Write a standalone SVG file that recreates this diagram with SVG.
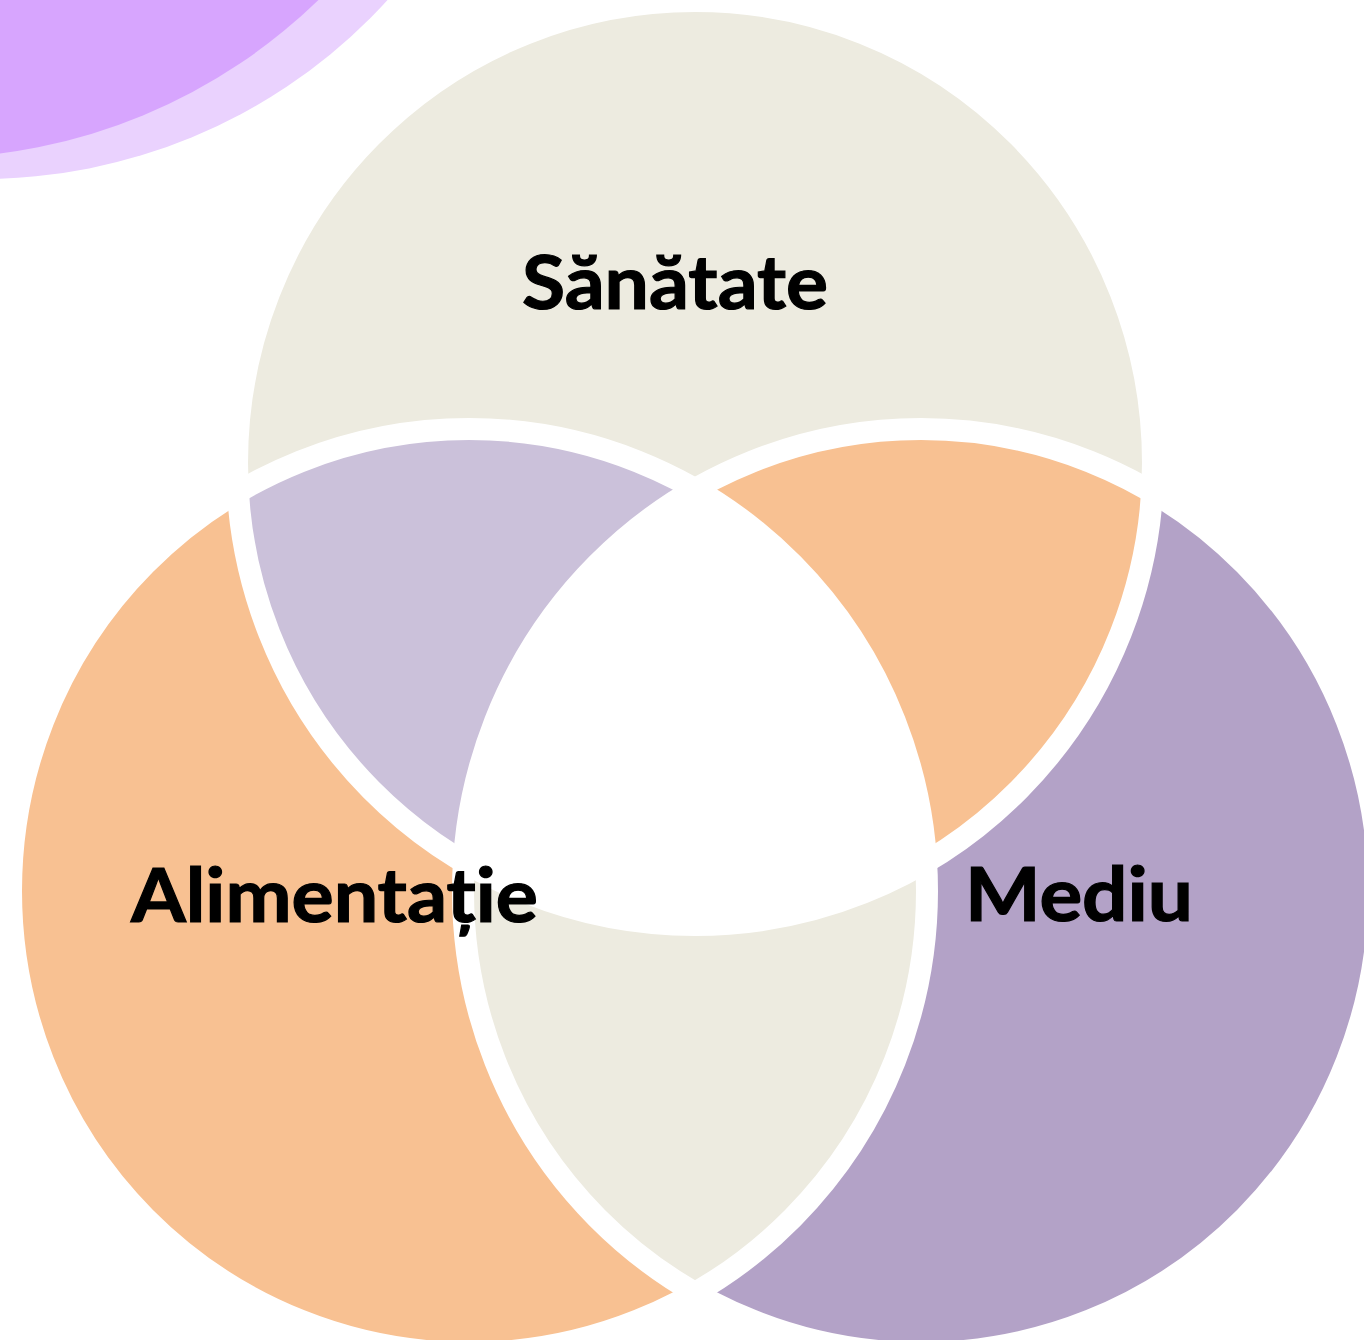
<svg xmlns="http://www.w3.org/2000/svg" width="1364" height="1340" viewBox="0 0 1364 1340">
<style>
.lbl{font-family:Lato,"Liberation Sans",sans-serif;font-weight:700;font-size:75px;fill:#000000;stroke:#000000;stroke-width:1.2px}
.outline{fill:none;stroke:#FFFFFF;stroke-width:22}
</style>
<defs>
<clipPath id="cT"><ellipse cx="695" cy="463" rx="458" ry="462"/></clipPath>
<clipPath id="cL"><ellipse cx="469" cy="891" rx="458" ry="462"/></clipPath>
<clipPath id="cR"><ellipse cx="921" cy="891" rx="458" ry="462"/></clipPath>
</defs>
<rect width="1364" height="1340" fill="#FFFFFF"/>
<g id="deco">
<circle cx="-18" cy="-370" r="549" fill="#EAD2FE"/>
<circle cx="-71" cy="-401" r="559" fill="#D7A5FE"/>
</g>
<g id="node-sanatate">
<ellipse cx="695" cy="463" rx="458" ry="462" fill="#EDEBE0"/>
</g>
<g id="node-alimentatie">
<ellipse cx="469" cy="891" rx="458" ry="462" fill="#F8C192"/>
</g>
<g id="node-mediu">
<ellipse cx="921" cy="891" rx="458" ry="462" fill="#B3A2C7"/>
</g>
<g id="overlaps">
<ellipse cx="469" cy="891" rx="458" ry="462" fill="#CBC1DA" clip-path="url(#cT)"/>
<ellipse cx="921" cy="891" rx="458" ry="462" fill="#F8C192" clip-path="url(#cT)"/>
<ellipse cx="921" cy="891" rx="458" ry="462" fill="#EDEBE0" clip-path="url(#cL)"/>
<g clip-path="url(#cL)">
<ellipse cx="921" cy="891" rx="458" ry="462" fill="#FFFFFF" clip-path="url(#cT)"/>
</g>
</g>
<g id="connectors">
<ellipse class="outline" cx="695" cy="463" rx="458" ry="462"/>
<ellipse class="outline" cx="469" cy="891" rx="458" ry="462"/>
<ellipse class="outline" cx="921" cy="891" rx="458" ry="462"/>
</g>
<g id="labels">
<text class="lbl" x="522" y="309" textLength="306" lengthAdjust="spacingAndGlyphs">Sănătate</text>
<text class="lbl" x="131" y="922" textLength="407" lengthAdjust="spacingAndGlyphs">Alimentație</text>
<text class="lbl" x="965" y="921" textLength="228" lengthAdjust="spacingAndGlyphs">Mediu</text>
</g>
</svg>
